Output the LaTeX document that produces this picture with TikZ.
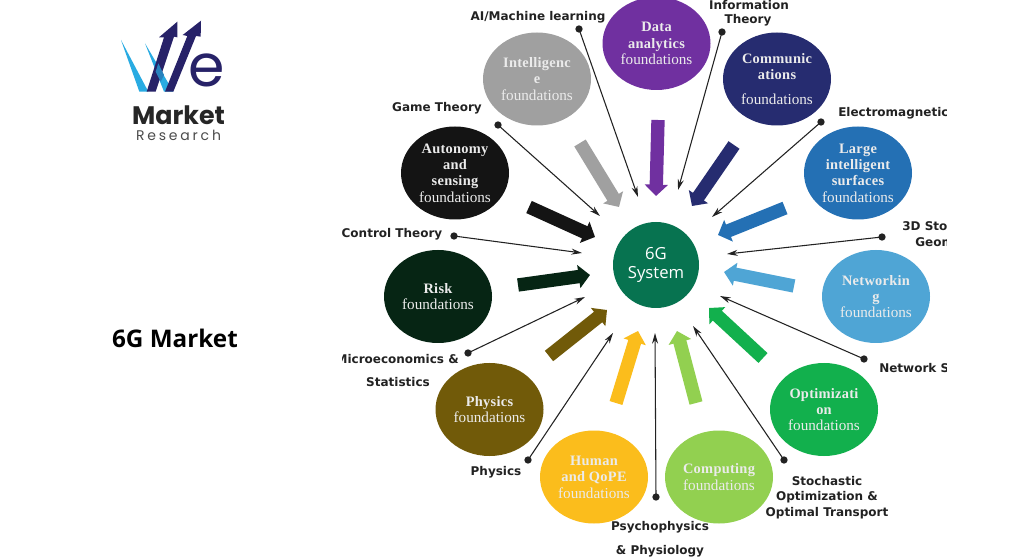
\documentclass[tikz,border=0pt]{standalone}
\usepackage{fontspec}
\setmainfont{Liberation Serif}
\newfontfamily\lblfont{DejaVu Sans}
\newfontfamily\ttlfont[LetterSpace=2]{Liberation Serif}
\newfontfamily\hubfont{Open Sans}
\newfontfamily\logofont{Poppins}
\newfontfamily\logospaced[LetterSpace=20]{Poppins}
\usetikzlibrary{shapes.geometric,arrows.meta}
\newcommand{\ttl}[1]{{\ttlfont\bfseries\fontsize{10.8}{12.3}\selectfont #1}}
\definecolor{linecol}{HTML}{222222}
\definecolor{cData}{HTML}{7030A0}
\definecolor{cComm}{HTML}{262C70}
\definecolor{cLarge}{HTML}{2470B4}
\definecolor{cNet}{HTML}{4FA5D5}
\definecolor{cOpt}{HTML}{12B04D}
\definecolor{cComp}{HTML}{92D050}
\definecolor{cHuman}{HTML}{FBBD1C}
\definecolor{cPhys}{HTML}{715A09}
\definecolor{cRisk}{HTML}{062514}
\definecolor{cAuto}{HTML}{141414}
\definecolor{cIntel}{HTML}{A0A0A0}
\definecolor{cHub}{HTML}{077350}
\definecolor{logoNavy}{HTML}{272268}
\definecolor{logoCyan}{HTML}{29ABE2}
\tikzset{
  x=0.75pt,y=-0.75pt,
  domainnode/.style={ellipse,minimum width=81pt,minimum height=69.75pt,inner sep=0pt,text=white!92!black,align=center,font=\fontsize{11.4}{12.3}\selectfont},
  dotnode/.style={circle,fill=linecol,inner sep=0pt,minimum size=5.5pt},
  thinarrow/.style={draw=linecol,line width=0.8pt,-{Stealth[length=8pt,width=4.5pt]}},
  blockarrow/.style={line width=10pt,-{Triangle[length=8.5pt,width=17pt]}},
  lbl/.style={font=\lblfont\bfseries\fontsize{9}{10}\selectfont,text=linecol,inner sep=0pt},
}
\begin{document}
\begin{tikzpicture}
\useasboundingbox (0,0) rectangle (1024,559);
\fill[white] (0,0) rectangle (1024,559);
\clip (0,0) rectangle (1024,559);

% logo
\begin{scope}[shift={(90,0)},x=0.25pt,y=-0.25pt]
  \fill[logoCyan] (93,120) -- (175,275) -- (148,275) -- cycle;
  \fill[logoCyan] (165,130) -- (250,275) -- (222,275) -- cycle;
  \fill[logoNavy] (170,275) -- (197,275) -- (252,110) -- (262,112) -- (262,65) -- (207,112) -- (222,112) -- cycle;
  \fill[logoNavy] (225,275) -- (250,275) -- (318,108) -- (332,110) -- (333,62) -- (278,105) -- (292,108) -- cycle;
  \fill[logoCyan!70!logoNavy] (205,190) -- (222,225) -- (212,245) -- (197,215) -- cycle;
\end{scope}
\node[font=\logofont\fontsize{44}{44}\selectfont,text=logoNavy,inner sep=0pt] (logoe) at (207,70) {e};
\node[font=\logofont\bfseries\fontsize{19}{20}\selectfont,text=black!85,inner sep=0pt] (logom) at (178.5,115) {Market};
\node[font=\logospaced\fontsize{10.5}{11}\selectfont,text=black!70,inner sep=0pt] (logor) at (178.5,135.5) {Research};

\node[font=\hubfont\bfseries\fontsize{18.2}{20}\selectfont,text=black,inner sep=0pt] (title) at (175,338) {6G Market};

% labels
\begin{scope}
\clip (342,0) rectangle (946,559);
\node[lbl] (tAI) at (538,17) {AI/Machine learning};
\node[lbl] (tInfoA) at (749,5) {Information};
\node[lbl] (tInfoB) at (748,20) {Theory};
\node[lbl] (tGame) at (437,108) {Game Theory};
\node[lbl] (tCtrl) at (392,234) {Control Theory};
\node[lbl,anchor=west] (tEM) at (838,113) {Electromagnetic};
\node[lbl,anchor=west] (t3DA) at (902,226) {3D Sto};
\node[lbl,anchor=west] (t3DB) at (915,242) {Geom};
\node[lbl,anchor=west] (tNet) at (879,368) {Network S};
\node[lbl,anchor=east] (tMicA) at (459,359) {Microeconomics \&};
\node[lbl] (tMicB) at (398,382) {Statistics};
\node[lbl] (tPhy) at (496,472) {Physics};
\node[lbl] (tPsyA) at (660,527) {Psychophysics};
\node[lbl] (tPsyB) at (660,551) {\& Physiology};
\node[lbl] (tStoA) at (827,481) {Stochastic};
\node[lbl] (tStoB) at (827,497) {Optimization \&};
\node[lbl] (tStoC) at (827,513) {Optimal Transport};

% domain circles
\node[domainnode,fill=cData] (data) at (656.5,43.5) {\ttl{Data}\\\ttl{analytics}\\foundations};
\node[domainnode,fill=cComm] (comm) at (777,79) {\ttl{Communic}\\\ttl{ations}\\[6pt]foundations};
\node[domainnode,fill=cLarge] (large) at (858,173) {\ttl{Large}\\\ttl{intelligent}\\\ttl{surfaces}\\foundations};
\node[domainnode,fill=cNet] (net) at (876,296.5) {\ttl{Networkin}\\\ttl{g}\\foundations};
\node[domainnode,fill=cOpt] (opt) at (824,409.5) {\ttl{Optimizati}\\\ttl{on}\\foundations};
\node[domainnode,fill=cComp] (comp) at (719,477) {\ttl{Computing}\\foundations};
\node[domainnode,fill=cHuman] (human) at (594,477) {\ttl{Human}\\\ttl{and QoPE}\\foundations};
\node[domainnode,fill=cPhys] (phys) at (489.5,409.5) {\ttl{Physics}\\foundations};
\node[domainnode,fill=cRisk] (risk) at (438,296.5) {\ttl{Risk}\\foundations};
\node[domainnode,fill=cAuto] (auto) at (455,173) {\ttl{Autonomy}\\\ttl{and}\\\ttl{sensing}\\foundations};
\node[domainnode,fill=cIntel] (intel) at (537,79) {\ttl{Intelligenc}\\\ttl{e}\\foundations};
\node[ellipse,fill=cHub,minimum width=64.5pt,minimum height=64.5pt,inner sep=0pt,text=white,align=center,font=\hubfont\fontsize{12.5}{14.2}\selectfont] (hub) at (656,265) {\raisebox{-1.5pt}{6G}\\\raisebox{-1.5pt}{System}};

% block arrows
\coordinate (bA1) at (658,120); \coordinate (bB1) at (656,196);
\coordinate (bA2) at (734,145); \coordinate (bB2) at (692,206);
\coordinate (bA3) at (785,208); \coordinate (bB3) at (718,235);
\coordinate (bA4) at (794,286); \coordinate (bB4) at (724,272);
\coordinate (bA5) at (763,358); \coordinate (bB5) at (709,308);
\coordinate (bA6) at (696,403); \coordinate (bB6) at (677,331);
\coordinate (bA7) at (616,403); \coordinate (bB7) at (638,331);
\coordinate (bA8) at (549,356); \coordinate (bB8) at (607,310);
\coordinate (bA9) at (518,285); \coordinate (bB9) at (590,275);
\coordinate (bA10) at (529,207); \coordinate (bB10) at (595,237);
\coordinate (bA11) at (580,143); \coordinate (bB11) at (619,207);
\draw[blockarrow,cData] (bA1) -- (bB1);
\draw[blockarrow,cComm] (bA2) -- (bB2);
\draw[blockarrow,cLarge] (bA3) -- (bB3);
\draw[blockarrow,cNet] (bA4) -- (bB4);
\draw[blockarrow,cOpt] (bA5) -- (bB5);
\draw[blockarrow,cComp] (bA6) -- (bB6);
\draw[blockarrow,cHuman] (bA7) -- (bB7);
\draw[blockarrow,cPhys] (bA8) -- (bB8);
\draw[blockarrow,cRisk] (bA9) -- (bB9);
\draw[blockarrow,cAuto] (bA10) -- (bB10);
\draw[blockarrow,cIntel] (bA11) -- (bB11);

% thin connectors
\node[dotnode] (dAI) at (579,29) {};     \coordinate (pAI) at (638,197);
\node[dotnode] (dInfo) at (722,32) {};   \coordinate (pInfo) at (678,190);
\node[dotnode] (dEM) at (821,122) {};    \coordinate (pEM) at (712,217);
\node[dotnode] (d3D) at (882,237) {};    \coordinate (p3D) at (727,254);
\node[dotnode] (dNet) at (864,359) {};   \coordinate (pNet) at (720,296);
\node[dotnode] (dSto) at (784,460) {};   \coordinate (pSto) at (693,326);
\node[dotnode] (dPsy) at (656,497) {};   \coordinate (pPsy) at (655,333);
\node[dotnode] (dPhy) at (528,460) {};   \coordinate (pPhy) at (613,333);
\node[dotnode] (dMic) at (468,353) {};   \coordinate (pMic) at (585,297);
\node[dotnode] (dCtrl) at (454,236) {};  \coordinate (pCtrl) at (582,253);
\node[dotnode] (dGame) at (498,125) {};  \coordinate (pGame) at (600,216);
\foreach \n in {AI,Info,EM,3D,Net,Sto,Psy,Phy,Mic,Ctrl,Game}
  \draw[thinarrow] (d\n.center) -- (p\n);
\end{scope}
\end{tikzpicture}
\end{document}
